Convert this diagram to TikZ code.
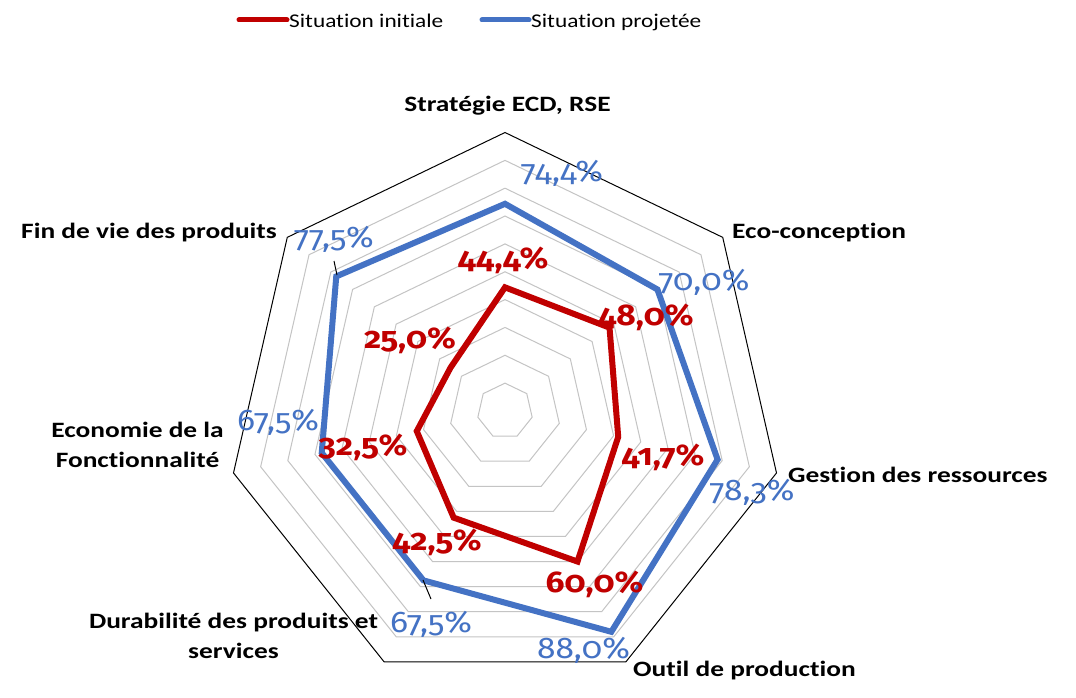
\documentclass[tikz,border=0pt]{standalone}
\usepackage{fontspec}
\setmainfont{Carlito}[Ligatures=NoCommon]
\newfontfamily\wfont[FakeStretch=1.25,Ligatures=NoCommon]{Carlito}
\newfontfamily\legfont[FakeStretch=1.2,Ligatures=NoCommon]{Carlito}
\newfontfamily\numfont[FakeStretch=1.12,Numbers=OldStyle]{Fira Sans}
\definecolor{cred}{HTML}{C00000}
\definecolor{cblue}{HTML}{4472C4}
\definecolor{cgrid}{HTML}{C4C4C4}
\begin{document}
\begin{tikzpicture}[x=1bp,y=-1bp,
  ring/.style={draw=cgrid, line width=1bp},
  outerring/.style={draw=black, line width=1bp},
  redser/.style={draw=cred, line width=6bp, line join=miter},
  blueser/.style={draw=cblue, line width=6bp, line join=miter},
  legline/.style={line width=5bp, line cap=round},
  legtext/.style={font=\legfont\fontsize{19.5}{24}\selectfont, inner sep=0, anchor=base west},
  axislabel/.style={font=\wfont\bfseries\fontsize{22}{29.5}\selectfont, inner sep=0, align=center},
  redlab/.style={text=cred, font=\numfont\bfseries\fontsize{30}{30}\selectfont, inner sep=0, anchor=base},
  bluelab/.style={text=cblue, font=\numfont\fontsize{30}{30}\selectfont, inner sep=0, anchor=base},
  leader/.style={draw=black, line width=1bp}
]
\useasboundingbox (0,0) rectangle (1076,698);
\fill[white] (0,0) rectangle (1076,698);

% grid
\begin{scope}[shift={(505,411)}]
  \foreach \i in {1,...,9}{
    \draw[ring] (-90:{\i*27.85}) \foreach \k in {1,...,6}{ -- ({-90+\k*360/7}:{\i*27.85}) } -- cycle;
  }
  \draw[outerring] (-90:278.5) \foreach \k in {1,...,6}{ -- ({-90+\k*360/7}:278.5) } -- cycle;

  \foreach \k/\v in {0/74.4,1/70.0,2/78.3,3/88.0,4/67.5,5/67.5,6/77.5}
    \coordinate (b\k) at ({-90+\k*360/7}:{\v*2.785});
  \foreach \k/\v in {0/44.4,1/48.0,2/41.7,3/60.0,4/42.5,5/32.5,6/25.0}
    \coordinate (r\k) at ({-90+\k*360/7}:{\v*2.785});

  \draw[blueser] (b0) -- (b1) -- (b2) -- (b3) -- (b4) -- (b5) -- (b6) -- cycle;
  \draw[redser] (r0) -- (r1) -- (r2) -- (r3) -- (r4) -- (r5) -- (r6) -- cycle;
\end{scope}

% legend
\node[legtext] (legr) at (289,28) {Situation initiale};
\node[legtext] (legb) at (531,28) {Situation projetée};
\coordinate (lr) at (239,20);
\coordinate (lb) at (482,20);
\draw[legline, cred] (lr) -- ([xshift=-2bp]legr.west |- lr);
\draw[legline, cblue] (lb) -- ([xshift=-2bp]legb.west |- lb);

% axis labels
\node[axislabel, anchor=base] (ax0) at (507.5,112) {Stratégie ECD, RSE};
\node[axislabel, anchor=base west] (ax1) at (732,238) {Eco-conception};
\node[axislabel, anchor=base west] (ax2) at (788,482) {Gestion des ressources};
\node[axislabel, anchor=base west] (ax3) at (633,676) {Outil de production};
\node[axislabel, anchor=base] (ax4) at (233.5,658) {Durabilité des produits et\\services};
\node[axislabel, anchor=base] (ax5) at (137.5,467) {Economie de la\\Fonctionnalité};
\node[axislabel, anchor=base east] (ax6) at (277,238) {Fin de vie des produits};

% leader lines
\coordinate (l6a) at (334,261);
\coordinate (l6b) at (337,275);
\coordinate (l4a) at (423,580);
\coordinate (l4b) at (431,599);
\draw[leader] (l6a) -- (l6b);
\draw[leader] (l4a) -- (l4b);

% data labels blue
\node[bluelab] (vb0) at (562,182) {74,4\%};
\node[bluelab] (vb1) at (704,290) {70,0\%};
\node[bluelab] (vb2) at (752,500) {78,3\%};
\node[bluelab] (vb3) at (583.5,658) {88,0\%};
\node[bluelab] (vb4) at (431,632) {67,5\%};
\node[bluelab] (vb5) at (278,430) {67,5\%};
\node[bluelab] (vb6) at (334,247) {77,5\%};

% data labels red
\node[redlab] (vr0) at (503,268) {44,4\%};
\node[redlab] (vr1) at (646,325) {48,0\%};
\node[redlab] (vr2) at (663,465) {41,7\%};
\node[redlab] (vr3) at (594.5,592) {60,0\%};
\node[redlab] (vr4) at (437,550) {42,5\%};
\node[redlab] (vr5) at (363,455) {32,5\%};
\node[redlab] (vr6) at (410,348) {25,0\%};
\end{tikzpicture}
\end{document}
